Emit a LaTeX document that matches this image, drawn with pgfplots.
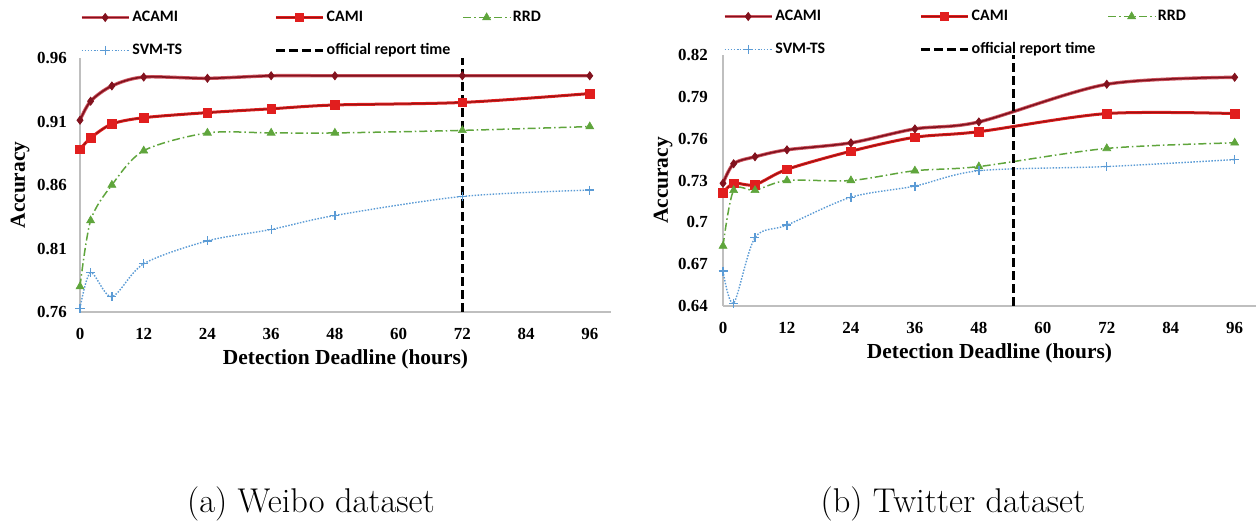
\documentclass[border=0pt]{standalone}
\usepackage{fontspec}
\usepackage{pgfplots}
\pgfplotsset{compat=1.18}
\newfontfamily\tnr{Liberation Serif}
\newfontfamily\carl{Carlito}
\definecolor{acami}{RGB}{130,18,30}
\definecolor{acamiedge}{RGB}{205,85,95}
\definecolor{cami}{RGB}{225,30,30}
\definecolor{camicore}{RGB}{150,20,20}
\definecolor{rrd}{RGB}{95,165,60}
\definecolor{svm}{RGB}{91,155,213}
\definecolor{axgray}{RGB}{191,191,191}

\pgfplotstableread{
x acami cami rrd svm
0  0.911 0.888 0.780 0.763
2  0.926 0.897 0.832 0.791
6  0.938 0.908 0.860 0.772
12 0.945 0.913 0.887 0.798
24 0.944 0.917 0.901 0.816
36 0.946 0.920 0.901 0.825
48 0.946 0.923 0.901 0.836
72 0.946 0.925 0.903 0.851
96 0.946 0.932 0.906 0.856
}\weibo

\pgfplotstableread{
x acami cami rrd svm
0  0.728 0.721 0.683 0.665
2  0.742 0.728 0.723 0.642
6  0.747 0.727 0.723 0.689
12 0.752 0.738 0.730 0.698
24 0.757 0.751 0.730 0.718
36 0.767 0.761 0.737 0.726
48 0.772 0.765 0.740 0.737
72 0.799 0.778 0.753 0.740
96 0.804 0.778 0.757 0.745
}\twitter

\pgfplotsset{
  mystyle/.style={
    scale only axis,
    anchor=south west,
    xmin=0, xmax=100,
    xtick={0,12,...,96},
    axis x line*=bottom, axis y line*=left,
    axis line style={-, draw=axgray, line width=1.2bp},
    major tick length=0pt,
    clip=false,
    /pgf/number format/assume math mode=true,
    ticklabel style={font=\tnr\bfseries\fontsize{17}{17}\selectfont},
    xticklabel style={anchor=north, inner sep=0pt, yshift=-16bp},
    every axis x label/.style={at={(axis description cs:0.5,0)}, anchor=center, yshift=-47bp,
      font=\tnr\bfseries\fontsize{21.5}{22}\selectfont},
    every axis y label/.style={at={(axis description cs:0,0.5)}, xshift=-60bp, rotate=90, anchor=center,
      font=\tnr\bfseries\fontsize{21.5}{22}\selectfont},
    xlabel={Detection Deadline (hours)},
    ylabel={Accuracy},
    legend columns=3,
    legend style={draw=none, fill=none, inner sep=0pt, outer sep=0pt,
      at={(axis description cs:0,1)}, anchor=north west, yshift=50bp,
      font=\carl\bfseries\fontsize{16}{16}\selectfont,
      row sep=14bp,
      nodes={inner sep=2bp, text height=12bp, text depth=3bp}},
    legend cell align=left,
    legend image code/.code={
      \draw[mark repeat=2,mark phase=2,##1] plot coordinates {(0bp,0bp) (23.5bp,0bp) (47bp,0bp)};
    },
  },
  sacami/.style={color=acami, line width=1.6bp, smooth,
    preaction={draw=acamiedge, line width=3.4bp},
    mark=diamond*, mark size=4bp, mark options={solid, fill=acami, draw=acami, line width=0.8bp}},
  scami/.style={color=cami, line width=1.1bp, smooth,
    preaction={draw=cami, line width=3bp},
    mark=square*, mark size=4.3bp, mark options={solid, fill=cami, draw=cami, line width=0.6bp}},
  srrd/.style={color=rrd, line width=1.5bp, smooth, dash pattern=on 8bp off 3bp on 1.5bp off 3bp, mark=triangle*, mark size=4.6bp, mark options={solid, fill=rrd, line width=0.6bp}},
  ssvm/.style={color=svm, line width=1.4bp, smooth, dash pattern=on 1.5bp off 1.5bp, mark=+, mark size=4.5bp, mark options={solid, line width=1.3bp}},
  sofficial/.style={black, line width=3.5bp, dash pattern=on 9bp off 4bp},
}

\begin{document}
\begin{tikzpicture}
\useasboundingbox (0,0) rectangle (1256bp,523bp);

\begin{axis}[mystyle,
  at={(80bp,211bp)}, width=531bp, height=254bp,
  ymin=0.76, ymax=0.96,
  ytick={0.76,0.81,0.86,0.91,0.96},
  yticklabels={0.76,0.81,0.86,0.91,0.96},
  yticklabel style={anchor=east, inner sep=0pt, xshift=-13bp},
  legend style={/tikz/column 2/.style={column sep=90bp}, /tikz/column 4/.style={column sep=10bp}},
]
\addplot[sacami] table[x=x,y=acami]{\weibo};
\addlegendentry{ACAMI}
\addplot[scami, draw=camicore] table[x=x,y=cami]{\weibo};
\addlegendentry{CAMI}
\addplot[srrd] table[x=x,y=rrd]{\weibo};
\addlegendentry{RRD}
\addplot[ssvm] table[x=x,y=svm]{\weibo};
\addlegendentry{SVM-TS}
\addplot[sofficial] coordinates {(72,0.76) (72,0.96)};
\addlegendentry{official report time}
\end{axis}

\begin{axis}[mystyle,
  at={(723bp,217bp)}, width=533bp, height=251bp,
  ymin=0.64, ymax=0.82,
  ytick={0.64,0.67,0.70,0.73,0.76,0.79,0.82},
  yticklabels={0.64,0.67,0.7,0.73,0.76,0.79,0.82},
  yticklabel style={anchor=east, inner sep=0pt, xshift=-15bp},
  legend style={yshift=-2bp, /tikz/column 2/.style={column sep=92bp}, /tikz/column 4/.style={column sep=10bp}},
]
\addplot[sacami] table[x=x,y=acami]{\twitter};
\addlegendentry{ACAMI}
\addplot[scami, draw=camicore] table[x=x,y=cami]{\twitter};
\addlegendentry{CAMI}
\addplot[srrd] table[x=x,y=rrd]{\twitter};
\addlegendentry{RRD}
\addplot[ssvm] table[x=x,y=svm]{\twitter};
\addlegendentry{SVM-TS}
\addplot[sofficial] coordinates {(54.5,0.64) (54.5,0.82)};
\addlegendentry{official report time}
\end{axis}

\node[font=\fontsize{34.5}{36}\selectfont, anchor=center] at (311bp,19bp) {(a) Weibo dataset};
\node[font=\fontsize{34.5}{36}\selectfont, anchor=center] at (953bp,19bp) {(b) Twitter dataset};
\end{tikzpicture}
\end{document}
